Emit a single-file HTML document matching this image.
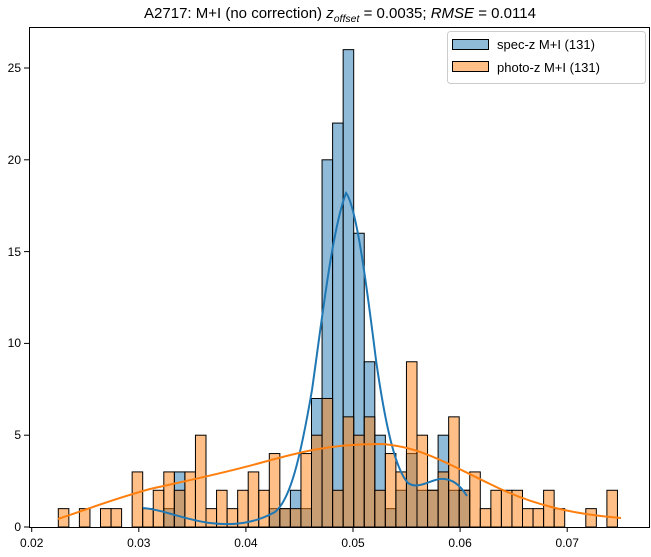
<!DOCTYPE html>
<html><head><meta charset="utf-8"><style>body{margin:0;background:#fff}
.b{fill:rgb(31,119,180);fill-opacity:.5;stroke:#000;stroke-width:1}
.o{fill:rgb(255,127,14);fill-opacity:.5;stroke:#000;stroke-width:1}
</style></head><body>
<svg width="651" height="552" xmlns="http://www.w3.org/2000/svg" font-family="Liberation Sans, DejaVu Sans, sans-serif">
<rect width="651" height="552" fill="#fff"/>
<g>
<rect class="b" x="163.8" y="508.64" width="10.55" height="18.36"/>
<rect class="b" x="174.35" y="471.92" width="10.55" height="55.08"/>
<rect class="b" x="269.3" y="508.64" width="10.55" height="18.36"/>
<rect class="b" x="279.85" y="508.64" width="10.55" height="18.36"/>
<rect class="b" x="290.4" y="490.28" width="10.55" height="36.72"/>
<rect class="b" x="300.95" y="508.64" width="10.55" height="18.36"/>
<rect class="b" x="311.5" y="398.48" width="10.55" height="128.52"/>
<rect class="b" x="322.05" y="159.8" width="10.55" height="367.2"/>
<rect class="b" x="332.6" y="123.08" width="10.55" height="403.92"/>
<rect class="b" x="343.15" y="49.64" width="10.55" height="477.36"/>
<rect class="b" x="353.7" y="233.24" width="10.55" height="293.76"/>
<rect class="b" x="364.25" y="361.76" width="10.55" height="165.24"/>
<rect class="b" x="374.8" y="435.2" width="10.55" height="91.8"/>
<rect class="b" x="385.35" y="508.64" width="10.55" height="18.36"/>
<rect class="b" x="395.9" y="490.28" width="10.55" height="36.72"/>
<rect class="b" x="406.45" y="453.56" width="10.55" height="73.44"/>
<rect class="b" x="417" y="490.28" width="10.55" height="36.72"/>
<rect class="b" x="427.55" y="490.28" width="10.55" height="36.72"/>
<rect class="b" x="438.1" y="435.2" width="10.55" height="91.8"/>
<rect class="b" x="448.65" y="490.28" width="10.55" height="36.72"/>
<rect class="b" x="459.2" y="490.28" width="10.55" height="36.72"/>
</g>
<g>
<rect class="o" x="58.3" y="508.64" width="10.55" height="18.36"/>
<rect class="o" x="79.4" y="508.64" width="10.55" height="18.36"/>
<rect class="o" x="100.5" y="508.64" width="10.55" height="18.36"/>
<rect class="o" x="111.05" y="508.64" width="10.55" height="18.36"/>
<rect class="o" x="132.15" y="471.92" width="10.55" height="55.08"/>
<rect class="o" x="142.7" y="508.64" width="10.55" height="18.36"/>
<rect class="o" x="153.25" y="490.28" width="10.55" height="36.72"/>
<rect class="o" x="163.8" y="471.92" width="10.55" height="55.08"/>
<rect class="o" x="174.35" y="490.28" width="10.55" height="36.72"/>
<rect class="o" x="184.9" y="471.92" width="10.55" height="55.08"/>
<rect class="o" x="195.45" y="435.2" width="10.55" height="91.8"/>
<rect class="o" x="206" y="508.64" width="10.55" height="18.36"/>
<rect class="o" x="216.55" y="490.28" width="10.55" height="36.72"/>
<rect class="o" x="227.1" y="508.64" width="10.55" height="18.36"/>
<rect class="o" x="237.65" y="490.28" width="10.55" height="36.72"/>
<rect class="o" x="248.2" y="471.92" width="10.55" height="55.08"/>
<rect class="o" x="258.75" y="490.28" width="10.55" height="36.72"/>
<rect class="o" x="269.3" y="453.56" width="10.55" height="73.44"/>
<rect class="o" x="279.85" y="508.64" width="10.55" height="18.36"/>
<rect class="o" x="290.4" y="508.64" width="10.55" height="18.36"/>
<rect class="o" x="300.95" y="453.56" width="10.55" height="73.44"/>
<rect class="o" x="311.5" y="435.2" width="10.55" height="91.8"/>
<rect class="o" x="322.05" y="398.48" width="10.55" height="128.52"/>
<rect class="o" x="332.6" y="490.28" width="10.55" height="36.72"/>
<rect class="o" x="343.15" y="416.84" width="10.55" height="110.16"/>
<rect class="o" x="353.7" y="435.2" width="10.55" height="91.8"/>
<rect class="o" x="364.25" y="416.84" width="10.55" height="110.16"/>
<rect class="o" x="374.8" y="490.28" width="10.55" height="36.72"/>
<rect class="o" x="385.35" y="453.56" width="10.55" height="73.44"/>
<rect class="o" x="395.9" y="471.92" width="10.55" height="55.08"/>
<rect class="o" x="406.45" y="361.76" width="10.55" height="165.24"/>
<rect class="o" x="417" y="435.2" width="10.55" height="91.8"/>
<rect class="o" x="427.55" y="490.28" width="10.55" height="36.72"/>
<rect class="o" x="438.1" y="471.92" width="10.55" height="55.08"/>
<rect class="o" x="448.65" y="416.84" width="10.55" height="110.16"/>
<rect class="o" x="459.2" y="490.28" width="10.55" height="36.72"/>
<rect class="o" x="469.75" y="471.92" width="10.55" height="55.08"/>
<rect class="o" x="480.3" y="508.64" width="10.55" height="18.36"/>
<rect class="o" x="490.85" y="490.28" width="10.55" height="36.72"/>
<rect class="o" x="501.4" y="490.28" width="10.55" height="36.72"/>
<rect class="o" x="511.95" y="490.28" width="10.55" height="36.72"/>
<rect class="o" x="522.5" y="508.64" width="10.55" height="18.36"/>
<rect class="o" x="533.05" y="508.64" width="10.55" height="18.36"/>
<rect class="o" x="543.6" y="490.28" width="10.55" height="36.72"/>
<rect class="o" x="554.15" y="508.64" width="10.55" height="18.36"/>
<rect class="o" x="585.8" y="508.64" width="10.55" height="18.36"/>
<rect class="o" x="606.9" y="490.28" width="10.55" height="36.72"/>
</g>
<path d="M143,508 C165,510 185,520 210,523 C235,526 255,523 275,512 C290,500 300,460 312,390 C322,320 332,230 346,193 C356,205 366,280 376,360 C386,430 396,470 408,483 C418,490 430,480 440,479 C452,478 460,485 467,496" fill="none" stroke="#1f77b4" stroke-width="2"/>
<path d="M58,519 C80,512 110,500 150,489 C190,480 220,474 260,463 C300,452 330,444 380,444 C420,446 450,465 490,484 C530,504 570,514 621,518" fill="none" stroke="#ff7f0e" stroke-width="2"/>
<rect x="29.5" y="27.5" width="620" height="500" fill="none" stroke="#000" stroke-width="1"/>
<g stroke="#000">
<line x1="31.7" y1="527" x2="31.7" y2="532"/><line x1="138.8" y1="527" x2="138.8" y2="532"/><line x1="245.9" y1="527" x2="245.9" y2="532"/><line x1="353" y1="527" x2="353" y2="532"/><line x1="460.1" y1="527" x2="460.1" y2="532"/><line x1="567.2" y1="527" x2="567.2" y2="532"/>
<line x1="24" y1="527" x2="29" y2="527"/><line x1="24" y1="435.2" x2="29" y2="435.2"/><line x1="24" y1="343.4" x2="29" y2="343.4"/><line x1="24" y1="251.6" x2="29" y2="251.6"/><line x1="24" y1="159.8" x2="29" y2="159.8"/><line x1="24" y1="68" x2="29" y2="68"/>
</g>
<g font-size="12" fill="#000" text-anchor="middle">
<text x="31.7" y="547">0.02</text><text x="138.8" y="547">0.03</text><text x="245.9" y="547">0.04</text><text x="353" y="547">0.05</text><text x="460.1" y="547">0.06</text><text x="567.2" y="547">0.07</text>
</g>
<g font-size="12" fill="#000" text-anchor="end">
<text x="21" y="531">0</text><text x="21" y="439">5</text><text x="21" y="347">10</text><text x="21" y="256">15</text><text x="21" y="164">20</text><text x="21" y="72">25</text>
</g>
<text x="340" y="18" font-size="15" text-anchor="middle">A2717: M+I (no correction) <tspan font-style="italic">z</tspan><tspan font-style="italic" font-size="10.5" dy="4">offset</tspan><tspan dy="-4"> = 0.0035; </tspan><tspan font-style="italic">RMSE</tspan> = 0.0114</text>
<rect x="447.5" y="31.5" width="198" height="52" rx="3" fill="#fff" fill-opacity="0.8" stroke="#ccc"/>
<rect x="452.5" y="39.5" width="36" height="10" fill="#8fbbd9" stroke="#000"/>
<rect x="452.5" y="61.5" width="36" height="10" fill="#ffbf86" stroke="#000"/>
<text x="497" y="49" font-size="13">spec-z M+I (131)</text>
<text x="497" y="72" font-size="13">photo-z M+I (131)</text>
</svg>
</body></html>
